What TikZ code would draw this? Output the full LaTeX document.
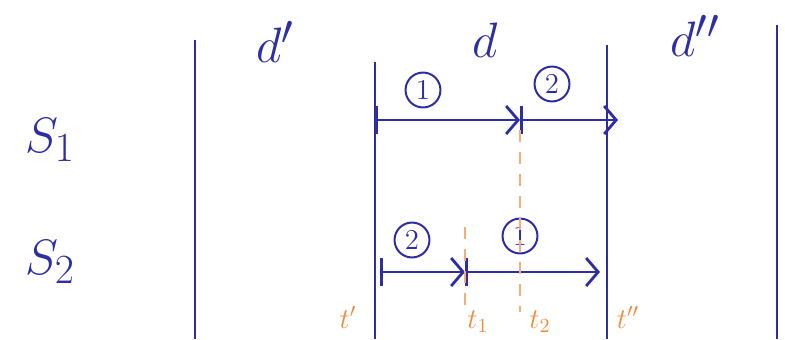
\documentclass[tikz,border=0pt]{standalone}
\usepackage{amsmath,xcolor,tikz}
\usetikzlibrary{calc,arrows.meta}
\definecolor{ink}{RGB}{45,45,165}
\definecolor{pen}{RGB}{240,140,60}

\begin{document}
\begin{tikzpicture}[x=0.5pt,y=-0.5pt,
    bar/.style={ink,line width=1.4pt,{Bar[width=14pt]}-{Straight Barb[length=6pt,width=14pt]}},
    wall/.style={ink,line width=0.8pt},
    num/.style={draw=ink,text=ink,circle,line width=1pt,inner sep=2pt,font=\Large},
    lbl/.style={text=ink,font=\Huge},
    guide/.style={pen!70,line width=0.6pt,dash pattern=on 6pt off 5pt}]
  % 画布（像素坐标）
  \clip (0,0) rectangle (785,339);

  % 竖线的横坐标（改这里就能移动各列）
  \def\xa{195}  \def\xb{375}  \def\xc{607}  \def\xd{777}
  % 两行的纵坐标
  \def\ya{120}  \def\yb{272}

  % 竖线
  \draw[wall] (\xa,40) -- (\xa,339);
  \draw[wall] (\xb,62) -- (\xb,339);
  \draw[wall] (\xc,45) -- (\xc,339);
  \draw[wall] (\xd,25) -- (\xd,339);

  % 列标题与行标题
  \node[lbl] (dl) at (275,42) {$d'$};
  \node[lbl] (dm) at (485,40) {$d$};
  \node[lbl] (dr) at (695,36) {$d''$};
  \node[lbl] (s1) at (50,140) {$S_1$};
  \node[lbl] (s2) at (50,262) {$S_2$};

  % S1：① 在前，② 在后
  \coordinate (p1) at (\xb,\ya);
  \coordinate (m1) at (520,\ya);
  \coordinate (q1) at (618,\ya);
  \draw[bar] (p1) -- (m1);
  \draw[bar] (m1) -- (q1);
  \node[num] (n11) at (423,90) {1};
  \node[num] (n12) at (552,84) {2};

  % S2：② 在前，① 在后
  \coordinate (p2) at (380,\yb);
  \coordinate (m2) at (465,\yb);
  \coordinate (q2) at (600,\yb);
  \draw[bar] (p2) -- (m2);
  \draw[bar] (m2) -- (q2);
  \node[num] (n22) at (412,240) {2};
  \node[num] (n21) at (520,236) {1};

  % 橙色辅助线与时刻
  \draw[guide] (m2) ++(0,-45) -- (465,312);
  \draw[guide] (m1) ++(0,10) -- (520,312);
  \foreach \x/\t in {348/t',478/t_1,540/t_2,628/t''}{
    \node[text=pen,font=\Large,anchor=base,inner sep=1pt] at (\x,328) {$\t$};
  }
\end{tikzpicture}
\end{document}
